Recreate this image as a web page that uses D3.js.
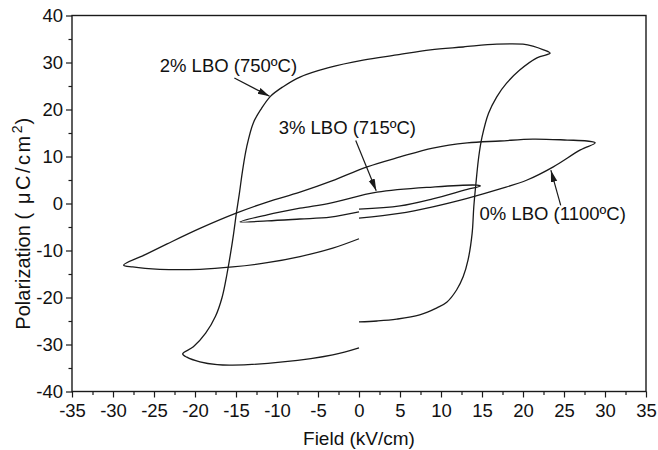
<!DOCTYPE html>
<html>
<head>
<meta charset="utf-8">
<script src="https://cdn.jsdelivr.net/npm/d3@7"></script>
<style>
  body { margin: 0; background: #fff; }
  text { font-family: "Liberation Sans", Arial, sans-serif; fill: #111; }
</style>
</head>
<body>
<svg id="chart"></svg>
<script>
const width = 658;
const height = 450;

// data: [field kV/cm, polarization uC/cm2]
const lbo2 = [
  [0, -25.2], [2.2, -25.0], [4.6, -24.6], [7.4, -23.7], [9.5, -22.2], [10.7, -21.0],
  [11.9, -18.4], [12.7, -15.6], [13.3, -12.0], [13.8, -6.3], [14.0, -0.7], [14.3, 5.0],
  [14.6, 9.9], [15.0, 14.1], [15.8, 19.2], [16.8, 22.7], [18.0, 25.6], [19.6, 28.4],
  [21.7, 31.0], [23.3, 32.0], [22.5, 32.7], [21.2, 33.5], [20.0, 33.9], [16.8, 33.9],
  [12.7, 33.3], [8.7, 32.7], [4.6, 31.6], [0.5, 30.5], [-3.7, 28.9], [-7.2, 26.9],
  [-9.3, 24.8], [-10.8, 22.8], [-11.9, 20.2], [-12.9, 17.1], [-13.7, 12.0], [-14.2, 7.0],
  [-14.6, 2.0], [-14.95, -2.0], [-15.3, -6.5], [-15.7, -11.0], [-16.1, -15.0], [-16.7, -20.0],
  [-17.5, -24.0], [-18.7, -27.6], [-20.2, -30.5], [-21.5, -32.0], [-21.0, -32.7], [-19.4, -33.7],
  [-17.3, -34.3], [-15.4, -34.4], [-9.3, -33.7], [-3.2, -32.2], [0, -30.7]
];

const lbo3 = [
  [0, -1.2], [5.0, -0.5], [9.0, 1.0], [13.2, 3.0], [14.8, 3.7], [14.4, 3.9], [9.0, 3.5],
  [2.2, 2.4], [-3.5, 0.1], [-7.2, -1.0], [-11.2, -2.4], [-14.5, -3.9], [-11.2, -3.7],
  [-7.2, -3.3], [-3.5, -2.9], [0, -1.8]
];

const lbo0 = [
  [0, -3.1], [4.9, -2.1], [9.0, -0.7], [13.2, 1.1], [17.2, 3.1], [20.5, 5.0], [23.7, 7.8],
  [27.0, 11.4], [28.8, 12.9], [27.8, 13.3], [25.4, 13.5], [21.2, 13.7], [17.2, 13.3],
  [13.2, 12.9], [9.0, 11.8], [5.0, 9.9], [1.0, 7.8], [-3.3, 4.8], [-7.2, 2.4], [-11.2, 0.3],
  [-14.9, -2.0], [-19.4, -5.3], [-23.4, -8.6], [-26.2, -11.0], [-28.7, -13.1], [-27.6, -13.5],
  [-24.3, -14.0], [-19.4, -14.0], [-15.4, -13.5], [-11.2, -12.6], [-7.2, -11.3], [-3.2, -9.5],
  [0, -7.5]
];

const xTicks = [-35, -30, -25, -20, -15, -10, -5, 0, 5, 10, 15, 20, 25, 30, 35];
const xMinor = [-32.5, -27.5, -22.5, -17.5, -12.5, -7.5, -2.5, 2.5, 7.5, 12.5, 17.5, 22.5, 27.5, 32.5];
const yTicks = [-40, -30, -20, -10, 0, 10, 20, 30, 40];
const yMinor = [-35, -25, -15, -5, 5, 15, 25, 35];

// labels with arrow: text anchor point, arrow from, arrow to (data units)
const notes = [
  { label: '2% LBO (750ºC)', at: [-24.3, 27.9], from: [-15.2, 26.7], to: [-10.9, 22.8] },
  { label: '3% LBO (715ºC)', at: [-9.8, 14.8], from: [-0.4, 13.4], to: [2.1, 2.7] },
  { label: '0% LBO (1100ºC)', at: [14.7, -3.5], from: [24.6, -0.4], to: [23.4, 7.1] }
];

const margin = { top: 15.5, right: 12, bottom: 58.5, left: 72 };

const svg = d3.select('#chart')
  .attr('width', width)
  .attr('height', height);

const x = d3.scaleLinear().domain([-35, 35]).range([margin.left, width - margin.right]);
const y = d3.scaleLinear().domain([-40, 40]).range([height - margin.bottom, margin.top]);

const ink = '#1a1a1a';

// minor ticks first, no labels
svg.append('g')
  .attr('transform', `translate(0,${y(-40)})`)
  .call(d3.axisBottom(x).tickValues(xMinor).tickSize(3.5).tickFormat(''))
  .call(g => g.select('.domain').remove());
svg.append('g')
  .attr('transform', `translate(${x(-35)},0)`)
  .call(d3.axisLeft(y).tickValues(yMinor).tickSize(3.5).tickFormat(''))
  .call(g => g.select('.domain').remove());

// plain hyphen for negatives, like the original
const fmt = d => String(d);

const xAxis = svg.append('g')
  .attr('transform', `translate(0,${y(-40)})`)
  .call(d3.axisBottom(x).tickValues(xTicks).tickSize(6).tickPadding(6).tickFormat(fmt));
const yAxis = svg.append('g')
  .attr('transform', `translate(${x(-35)},0)`)
  .call(d3.axisLeft(y).tickValues(yTicks).tickSize(6).tickPadding(3).tickFormat(fmt));

svg.selectAll('.tick line').attr('stroke', ink).attr('stroke-width', 1.2);
svg.selectAll('.tick text').style('font-size', '18.5px').attr('fill', ink);
xAxis.select('.domain').remove();
yAxis.select('.domain').remove();

// frame
svg.append('rect')
  .attr('x', x(-35)).attr('y', y(40))
  .attr('width', x(35) - x(-35)).attr('height', y(-40) - y(40))
  .attr('fill', 'none').attr('stroke', ink).attr('stroke-width', 1.4);

// loops
const line = d3.line()
  .x(d => x(d[0]))
  .y(d => y(d[1]))
  .curve(d3.curveCatmullRom.alpha(0.5));

svg.selectAll('.loop')
  .data([lbo2, lbo3, lbo0])
  .enter()
  .append('path')
  .attr('class', 'loop')
  .attr('d', line)
  .attr('fill', 'none')
  .attr('stroke', ink)
  .attr('stroke-width', 1.3);

// arrow head
svg.append('defs').append('marker')
  .attr('id', 'head')
  .attr('viewBox', '0 0 12 8')
  .attr('refX', 12).attr('refY', 4)
  .attr('markerWidth', 12).attr('markerHeight', 8)
  .attr('markerUnits', 'userSpaceOnUse')
  .attr('orient', 'auto')
  .append('path')
  .attr('d', 'M0,0.8 L12,4 L0,7.2 Z')
  .attr('fill', ink);

svg.selectAll('.note-arrow')
  .data(notes)
  .enter()
  .append('line')
  .attr('class', 'note-arrow')
  .attr('x1', d => x(d.from[0])).attr('y1', d => y(d.from[1]))
  .attr('x2', d => x(d.to[0])).attr('y2', d => y(d.to[1]))
  .attr('stroke', ink).attr('stroke-width', 1.2)
  .attr('marker-end', 'url(#head)');

svg.selectAll('.note')
  .data(notes)
  .enter()
  .append('text')
  .attr('class', 'note')
  .attr('x', d => x(d.at[0]))
  .attr('y', d => y(d.at[1]))
  .style('font-size', '18.5px')
  .text(d => d.label);

// axis titles
svg.append('text')
  .attr('x', x(0))
  .attr('y', 445)
  .attr('text-anchor', 'middle')
  .style('font-size', '19px')
  .text('Field (kV/cm)');

const yTitle = svg.append('text')
  .attr('transform', `translate(30,${y(-4.3)}) rotate(-90)`)
  .attr('text-anchor', 'middle')
  .style('font-size', '20px');
yTitle.append('tspan').text('Polarization (');
yTitle.append('tspan').attr('dx', 9).style('letter-spacing', '2.5px').text('μC/cm');
yTitle.append('tspan').attr('dy', -8).style('font-size', '14px').text('2');
yTitle.append('tspan').attr('dy', 8).attr('dx', 1).text(')');
</script>
</body>
</html>
